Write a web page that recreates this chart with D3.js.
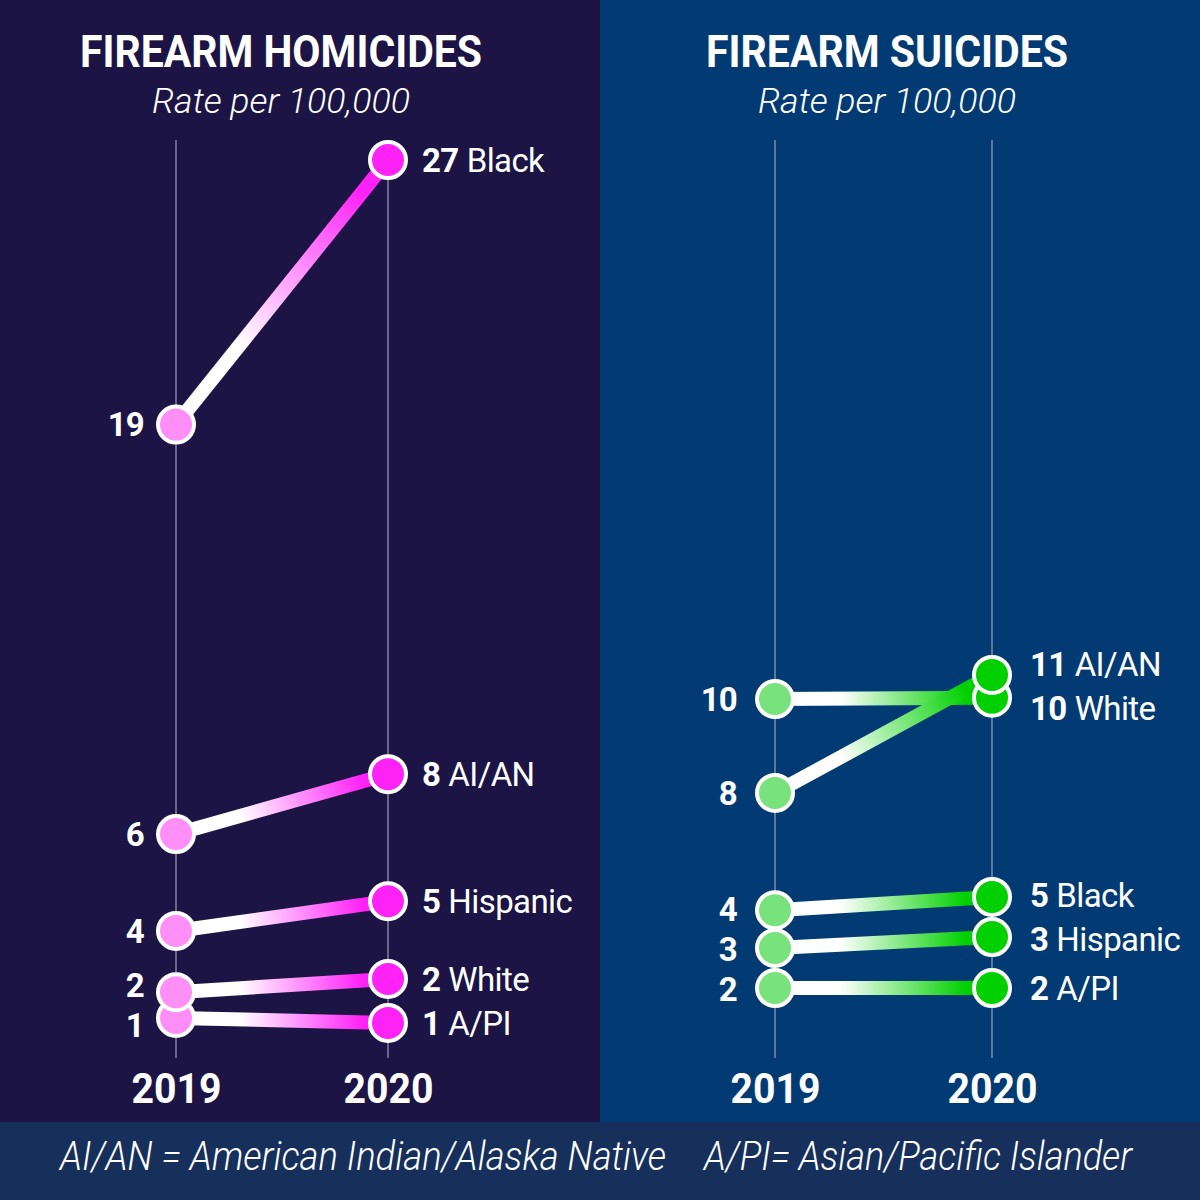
<!DOCTYPE html>
<html>
<head>
<meta charset="utf-8">
<script src="https://cdn.jsdelivr.net/npm/d3@7"></script>
<style>
  body { margin: 0; background: #1b1445; }
  svg { display: block; font-family: Roboto, 'Open Sans', sans-serif; }
</style>
</head>
<body>
<div id="chart"></div>
<script>

// years on the two axes
const years = ['2019', '2020'];

// firearm homicides, rate per 100,000 (drawn in this order)
const homicideGroups = ['A/PI', 'White', 'Hispanic', 'AI/AN', 'Black'];
const homicide2019 = [1.06, 1.84, 3.69, 6.62, 19.0];
const homicide2020 = [0.91, 2.24, 4.59, 8.43, 27.0];
const homicideLabels2019 = ['1', '2', '4', '6', '19'];
const homicideLabels2020 = ['1', '2', '5', '8', '27'];

// firearm suicides, rate per 100,000
const suicideGroups = ['Black', 'Hispanic', 'A/PI', 'White', 'AI/AN'];
const suicide2019 = [4.2, 3.09, 1.91, 10.41, 7.65];
const suicide2020 = [4.59, 3.41, 1.91, 10.45, 11.12];
const suicideLabels2019 = ['4', '3', '2', '10', '8'];
const suicideLabels2020 = ['5', '3', '2', '10', '11'];

const footNotes = ['AI/AN = American Indian/Alaska Native', 'A/PI= Asian/Pacific Islander'];

const svg = d3.select('#chart').append('svg')
    .attr('width', 1200)
    .attr('height', 1200)

const defs = svg.append('defs')

// squeeze text into a measured width (the original uses a condensed face)
function fitWidth(sel, w) {
    sel.attr('textLength', w).attr('lengthAdjust', 'spacingAndGlyphs')
}

// push labels apart so they don't collide
function spreadLabels(ys, gap) {
    const out = ys.slice()
    const order = d3.range(out.length).sort((a, b) => out[a] - out[b])
    for (let it = 0; it < 60; it++) {
        for (let k = 1; k < order.length; k++) {
            const a = order[k - 1], b = order[k]
            const diff = out[b] - out[a]
            if (diff < gap) {
                const push = (gap - diff) / 2
                out[a] -= push
                out[b] += push
            }
        }
    }
    return out
}

class SlopeChart {
    constructor(_config, _data) {
        this.config = {
            id: _config.id,
            x0: _config.x0,
            width: _config.width || 600,
            height: _config.height || 1122,
            background: _config.background,
            title: _config.title,
            titleX: _config.titleX,
            titleWidth: _config.titleWidth,
            axisX: _config.axisX,
            yDomain: _config.yDomain,
            yRange: _config.yRange,
            startColor: _config.startColor,
            endColor: _config.endColor,
            labelPad: _config.labelPad,
        }
        this.data = _data;
        this.initVis();
    }

    initVis() {
        let vis = this;

        vis.svg = svg.append('g')

        vis.svg.append('rect')
            .attr('x', vis.config.x0)
            .attr('y', 0)
            .attr('width', vis.config.width)
            .attr('height', vis.config.height)
            .attr('fill', vis.config.background)

        // title + subtitle
        vis.svg.append('text')
            .attr('x', vis.config.titleX)
            .attr('y', 67)
            .attr('text-anchor', 'middle')
            .attr('fill', '#fff')
            .attr('font-size', 44)
            .attr('font-weight', 700)
            .text(vis.config.title)
            .call(fitWidth, vis.config.titleWidth)

        vis.svg.append('text')
            .attr('x', vis.config.titleX)
            .attr('y', 113)
            .attr('text-anchor', 'middle')
            .attr('fill', '#fff')
            .attr('font-size', 35)
            .attr('font-style', 'italic')
            .attr('font-weight', 300)
            .text('Rate per 100,000')
            .call(fitWidth, 258)

        // Scales
        vis.xScale = d3.scalePoint()
            .domain(years)
            .range(vis.config.axisX)

        vis.yScale = d3.scaleLinear()
            .domain(vis.config.yDomain)
            .range(vis.config.yRange)

        // vertical year guides
        vis.svg.selectAll('.guide').data(years)
            .join('line')
            .attr('class', 'guide')
            .attr('x1', d => vis.xScale(d))
            .attr('x2', d => vis.xScale(d))
            .attr('y1', 140)
            .attr('y2', 1058)
            .attr('stroke', '#b9b6cc')
            .attr('stroke-width', 1)

        // year axis at the bottom
        vis.xAxis = d3.axisBottom(vis.xScale).tickSize(0).tickPadding(0)
        vis.xAxisG = vis.svg.append('g')
            .attr('transform', 'translate(0,1103)')

        vis.lineG = vis.svg.append('g')
        vis.dotG = vis.svg.append('g')
        vis.labelG = vis.svg.append('g')
    }

    updateVis() {
        let vis = this;

        vis.rows = vis.data.groups.map((g, i) => ({
            key: g,
            v0: vis.data.start[i],
            v1: vis.data.end[i],
            l0: vis.data.startLabels[i],
            l1: vis.data.endLabels[i],
        }))

        vis.ys0 = spreadLabels(vis.rows.map(d => vis.yScale(d.v0)), 40)
        vis.ys1 = spreadLabels(vis.rows.map(d => vis.yScale(d.v1)), 44)

        vis.renderVis()
    }

    renderVis() {
        let vis = this;
        const x0 = vis.xScale(years[0]), x1 = vis.xScale(years[1])

        // one gradient per line, white at 2019 fading into the 2020 colour
        vis.rows.forEach((d, i) => {
            const grad = defs.append('linearGradient')
                .attr('id', `${vis.config.id}-g${i}`)
                .attr('gradientUnits', 'userSpaceOnUse')
                .attr('x1', x0).attr('y1', vis.yScale(d.v0))
                .attr('x2', x1).attr('y2', vis.yScale(d.v1))
            grad.append('stop').attr('offset', '0%').attr('stop-color', '#ffffff')
            grad.append('stop').attr('offset', '30%').attr('stop-color', '#ffffff')
            grad.append('stop').attr('offset', '88%').attr('stop-color', vis.config.endColor)
            grad.append('stop').attr('offset', '100%').attr('stop-color', vis.config.endColor)
        })

        vis.lineG.selectAll('line').data(vis.rows)
            .join('line')
            .attr('x1', x0)
            .attr('y1', d => vis.yScale(d.v0))
            .attr('x2', x1)
            .attr('y2', d => vis.yScale(d.v1))
            .attr('stroke', (d, i) => `url(#${vis.config.id}-g${i})`)
            .attr('stroke-width', 14)

        vis.dotG.selectAll('.dot0').data(vis.rows)
            .join('circle')
            .attr('class', 'dot0')
            .attr('cx', x0)
            .attr('cy', d => vis.yScale(d.v0))
            .attr('r', 18)
            .attr('fill', vis.config.startColor)
            .attr('stroke', '#fff')
            .attr('stroke-width', 4)

        vis.dotG.selectAll('.dot1').data(vis.rows)
            .join('circle')
            .attr('class', 'dot1')
            .attr('cx', x1)
            .attr('cy', d => vis.yScale(d.v1))
            .attr('r', 18)
            .attr('fill', vis.config.endColor)
            .attr('stroke', '#fff')
            .attr('stroke-width', 4)

        // 2019 values on the left
        vis.labelG.selectAll('.lab0').data(vis.rows)
            .join('text')
            .attr('class', 'lab0')
            .attr('x', x0 - vis.config.labelPad[0])
            .attr('y', (d, i) => vis.ys0[i])
            .attr('dy', '0.36em')
            .attr('text-anchor', 'end')
            .attr('fill', '#fff')
            .attr('font-size', 33)
            .attr('font-weight', 700)
            .attr('letter-spacing', -0.8)
            .text(d => d.l0)

        // 2020 value + group on the right
        const lab1 = vis.labelG.selectAll('.lab1').data(vis.rows)
            .join('text')
            .attr('class', 'lab1')
            .attr('x', x1 + vis.config.labelPad[1])
            .attr('y', (d, i) => vis.ys1[i])
            .attr('dy', '0.36em')
            .attr('fill', '#fff')
            .attr('font-size', 33)
            .attr('letter-spacing', -0.6)
        lab1.append('tspan').attr('font-weight', 700).text(d => d.l1)
        lab1.append('tspan').attr('font-weight', 400).attr('dx', 8).text(d => d.key)

        // Update the axis
        vis.xAxisG.call(vis.xAxis)
        vis.xAxisG.select('.domain').remove()
        vis.xAxisG.selectAll('text')
            .attr('y', 0)
            .attr('dy', 0)
            .attr('fill', '#fff')
            .attr('font-size', 42)
            .attr('font-weight', 700)
            .attr('font-family', 'Roboto, sans-serif')
            .call(fitWidth, 90)
    }
}

const homicides = new SlopeChart({
    id: 'hom',
    x0: 0,
    background: '#1b1445',
    title: 'FIREARM HOMICIDES',
    titleX: 281,
    titleWidth: 402,
    axisX: [176, 388],
    yDomain: [0, 27],
    yRange: [1053, 160],
    startColor: '#ff8ff7',
    endColor: '#ff22f7',
    labelPad: [32, 34],
}, {groups: homicideGroups, start: homicide2019, end: homicide2020,
    startLabels: homicideLabels2019, endLabels: homicideLabels2020})
homicides.updateVis()

const suicides = new SlopeChart({
    id: 'sui',
    x0: 600,
    background: '#023a73',
    title: 'FIREARM SUICIDES',
    titleX: 887,
    titleWidth: 362,
    axisX: [775, 992],
    yDomain: [0, 11],
    yRange: [1053, 679],
    startColor: '#78e27c',
    endColor: '#00d000',
    labelPad: [38, 38],
}, {groups: suicideGroups, start: suicide2019, end: suicide2020,
    startLabels: suicideLabels2019, endLabels: suicideLabels2020})
suicides.updateVis()

// footer with abbreviations
svg.append('rect')
    .attr('x', 0).attr('y', 1122)
    .attr('width', 1200).attr('height', 78)
    .attr('fill', '#16305b')

const footX = [60, 704], footW = [606, 428]
svg.selectAll('.foot').data(footNotes)
    .join('text')
    .attr('class', 'foot')
    .attr('x', (d, i) => footX[i])
    .attr('y', 1170)
    .attr('fill', '#fff')
    .attr('font-size', 41)
    .attr('font-style', 'italic')
    .attr('font-weight', 300)
    .text(d => d)
    .each(function(d, i) { d3.select(this).call(fitWidth, footW[i]) })

</script>
</body>
</html>
